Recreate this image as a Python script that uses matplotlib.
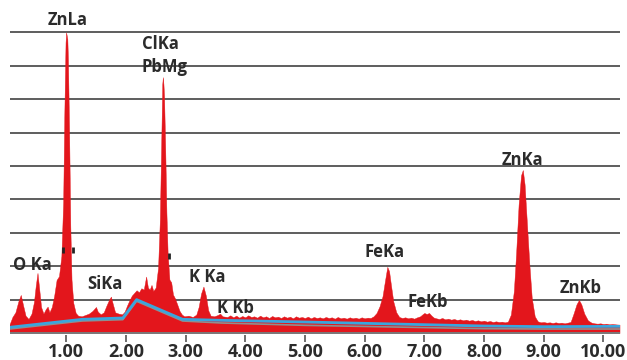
import matplotlib
matplotlib.use("Agg")
import matplotlib.pyplot as plt

# ---- data (energy in keV, intensity in gridline units) ----
energy_kev = [
    0.05, 0.10, 0.15, 0.20, 0.24, 0.28, 0.32, 0.37, 0.42, 0.46, 0.49, 0.52, 0.55, 0.58,
    0.62, 0.66, 0.69, 0.72, 0.76, 0.80, 0.84, 0.88, 0.92, 0.95, 0.97, 0.99, 1.00, 1.02,
    1.03, 1.05, 1.07, 1.09, 1.12, 1.16, 1.20, 1.26, 1.32, 1.38, 1.44, 1.48, 1.50, 1.53,
    1.58, 1.63, 1.68, 1.72, 1.75, 1.78, 1.82, 1.88, 1.94, 1.98, 2.02, 2.06, 2.10, 2.14,
    2.18, 2.22, 2.26, 2.30, 2.34, 2.37, 2.40, 2.43, 2.46, 2.50, 2.54, 2.57, 2.60, 2.61,
    2.62, 2.63, 2.64, 2.66, 2.68, 2.70, 2.73, 2.76, 2.79, 2.82, 2.86, 2.90, 2.94, 2.98,
    3.05, 3.12, 3.18, 3.22, 3.26, 3.30, 3.34, 3.38, 3.42, 3.48, 3.54, 3.58, 3.62, 3.70,
    3.75, 3.80, 3.85, 3.90, 3.95, 4.00, 4.05, 4.10, 4.15, 4.20, 4.25, 4.30, 4.35, 4.40,
    4.45, 4.50, 4.55, 4.60, 4.65, 4.70, 4.75, 4.80, 4.85, 4.90, 4.95, 5.00, 5.05, 5.10,
    5.15, 5.20, 5.25, 5.30, 5.35, 5.40, 5.45, 5.50, 5.55, 5.60, 5.65, 5.70, 5.75, 5.80,
    5.85, 5.90, 5.95, 6.00, 6.05, 6.10, 6.15, 6.20, 6.25, 6.30, 6.34, 6.38, 6.41, 6.44,
    6.48, 6.53, 6.58, 6.63, 6.68, 6.73, 6.78, 6.83, 6.88, 6.93, 6.97, 7.00, 7.04, 7.08,
    7.12, 7.16, 7.20, 7.25, 7.30, 7.35, 7.40, 7.45, 7.50, 7.55, 7.60, 7.65, 7.70, 7.75,
    7.80, 7.85, 7.90, 7.95, 8.00, 8.05, 8.10, 8.15, 8.20, 8.25, 8.30, 8.35, 8.40, 8.45,
    8.50, 8.54, 8.58, 8.62, 8.65, 8.68, 8.72, 8.76, 8.80, 8.85, 8.90, 8.95, 9.00, 9.05,
    9.10, 9.15, 9.20, 9.25, 9.30, 9.35, 9.40, 9.45, 9.50, 9.55, 9.59, 9.63, 9.68, 9.74,
    9.80, 9.85, 9.90, 9.95, 10.00, 10.05, 10.10, 10.15, 10.20, 10.27,
]
counts = [
    0.25, 0.48, 0.62, 0.95, 1.14, 0.82, 0.52, 0.42, 0.58, 0.92, 1.40, 1.80, 1.30, 0.78,
    0.58, 0.72, 0.79, 0.62, 0.78, 1.12, 1.59, 1.70, 2.30, 3.90, 6.60, 8.70, 9.00, 8.80,
    8.20, 6.00, 3.20, 1.60, 0.90, 0.60, 0.52, 0.50, 0.54, 0.58, 0.66, 0.74, 0.78, 0.64,
    0.56, 0.62, 0.84, 1.00, 1.09, 0.88, 0.62, 0.58, 0.56, 0.64, 0.82, 0.98, 1.12, 1.20,
    1.28, 1.22, 1.34, 1.30, 1.69, 1.36, 1.30, 1.44, 1.26, 1.36, 1.95, 3.40, 6.40, 7.45,
    7.66, 7.45, 7.10, 5.50, 3.60, 2.40, 1.60, 1.52, 1.15, 1.05, 0.86, 0.66, 0.55, 0.50,
    0.52, 0.48, 0.55, 0.78, 1.18, 1.39, 1.12, 0.68, 0.52, 0.50, 0.54, 0.58, 0.50, 0.48,
    0.53, 0.47, 0.52, 0.46, 0.51, 0.47, 0.53, 0.48, 0.50, 0.46, 0.52, 0.47, 0.50, 0.45,
    0.51, 0.47, 0.49, 0.45, 0.50, 0.46, 0.49, 0.44, 0.50, 0.46, 0.48, 0.45, 0.49, 0.44,
    0.48, 0.45, 0.47, 0.44, 0.48, 0.45, 0.47, 0.43, 0.48, 0.44, 0.46, 0.43, 0.47, 0.44,
    0.46, 0.43, 0.47, 0.44, 0.46, 0.45, 0.50, 0.60, 0.80, 1.10, 1.55, 1.98, 1.85, 1.45,
    0.95, 0.62, 0.48, 0.45, 0.47, 0.44, 0.46, 0.43, 0.47, 0.50, 0.56, 0.60, 0.57, 0.60,
    0.52, 0.46, 0.44, 0.42, 0.45, 0.41, 0.43, 0.40, 0.42, 0.39, 0.41, 0.38, 0.40, 0.37,
    0.39, 0.36, 0.38, 0.35, 0.37, 0.34, 0.36, 0.33, 0.35, 0.33, 0.34, 0.32, 0.34, 0.55,
    1.25, 2.45, 3.85, 4.72, 4.88, 4.45, 3.25, 2.05, 1.05, 0.50, 0.35, 0.32, 0.33, 0.31,
    0.32, 0.30, 0.32, 0.30, 0.31, 0.29, 0.31, 0.33, 0.58, 0.86, 0.99, 0.86, 0.58, 0.38,
    0.31, 0.29, 0.28, 0.29, 0.27, 0.28, 0.26, 0.27, 0.26, 0.25,
]

bg_energy = [0.05, 1.27, 1.95, 2.18, 2.95, 3.60, 5.00, 6.50, 8.00, 9.00, 10.27]
bg_blue = [0.17, 0.41, 0.45, 1.00, 0.41, 0.38, 0.33, 0.27, 0.21, 0.19, 0.20]
bg_gray = [0.12, 0.36, 0.40, 0.95, 0.36, 0.30, 0.23, 0.18, 0.13, 0.12, 0.12]

tick_values = [1, 2, 3, 4, 5, 6, 7, 8, 9, 10]
tick_labels = ["1.00", "2.00", "3.00", "4.00", "5.00", "6.00", "7.00", "8.00", "9.00", "10.00"]
grid_levels = [1, 2, 3, 4, 5, 6, 7, 8, 9]

peak_names = ["ZnLa", "ClKa", "PbMg", "O Ka", "SiKa", "K Ka", "K Kb", "FeKa", "FeKb", "ZnKa", "ZnKb"]
label_x = [1.03, 2.27, 2.27, 0.11, 1.65, 3.36, 3.83, 6.33, 7.05, 8.64, 9.62]
label_y = [9.36, 8.65, 7.95, 2.04, 1.47, 1.68, 0.75, 2.43, 0.93, 5.18, 1.35]
label_ha = ["center", "left", "left", "left", "center", "center", "center", "center",
            "center", "center", "center"]

# ---- figure ----
fig = plt.figure(figsize=(6.27, 3.6), dpi=100)
ax = fig.add_axes([0.016, 0.0703, 0.973, 0.9093])
ax.set_xlim(0.06, 10.28)
ax.set_ylim(-0.05, 9.75)

for g in grid_levels:
    ax.axhline(g, color="#505050", lw=1.3, zorder=1)

ax.fill_between(energy_kev, 0, counts, color="#e3161c", lw=0.3, edgecolor="#e3161c", zorder=2)
ax.plot(bg_energy, bg_gray, color="#8f8f8f", lw=1.2, zorder=3)
ax.plot(bg_energy, bg_blue, color="#3aa6dd", lw=2.0, zorder=4)
ax.axhline(0, color="#7a7a7a", lw=1.4, zorder=5)

# small dark marks near the main peaks
ax.plot([0.94, 1.11], [2.5, 2.5], ls="none", marker="|", ms=5, mew=2, color="#222222", zorder=6)
ax.plot([2.72], [2.3], ls="none", marker="|", ms=5, mew=2, color="#222222", zorder=6)

for name, x, y, ha in zip(peak_names, label_x, label_y, label_ha):
    ax.text(x, y, name, ha=ha, va="center", fontsize=12, fontweight="bold",
            family="Open Sans", color="#2b2b2b", zorder=7)

for s in ["left", "right", "top", "bottom"]:
    ax.spines[s].set_visible(False)
ax.set_yticks([])
ax.set_xticks(tick_values)
ax.set_xticklabels(tick_labels, fontsize=13, fontweight="bold", family="Open Sans",
                   color="#2b2b2b")
ax.tick_params(axis="x", direction="out", length=5, width=1.2, color="#555555", pad=1)

fig.savefig("out.png", dpi=100)
